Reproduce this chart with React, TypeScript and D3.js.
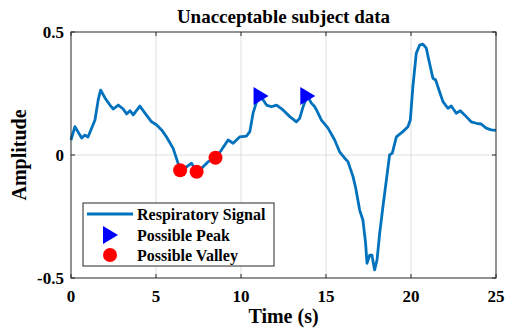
import React from "react";
import * as d3 from "d3";

// Respiratory signal samples: time (s) and amplitude
const timeS = [0, 0.23, 0.63, 0.82, 1.0, 1.41, 1.6, 1.74, 2.0, 2.29, 2.49, 2.78, 3.07, 3.27, 3.47, 3.66, 4.05, 4.35, 4.74, 5.04, 5.33, 5.62, 6.01, 6.3, 6.42, 6.8, 7.09, 7.39, 7.77, 8.07, 8.5, 8.85, 9.24, 9.54, 9.93, 10.32, 10.52, 10.71, 10.95, 11.15, 11.5, 11.79, 12.09, 12.47, 12.87, 13.26, 13.45, 13.65, 13.9, 14.14, 14.34, 14.44, 14.73, 15.12, 15.51, 15.8, 16.1, 16.29, 16.59, 16.75, 16.98, 17.17, 17.33, 17.41, 17.57, 17.7, 17.86, 18.0, 18.16, 18.35, 18.55, 18.74, 18.9, 19.14, 19.52, 19.82, 19.96, 20.11, 20.31, 20.51, 20.7, 20.9, 21.09, 21.29, 21.45, 21.68, 21.88, 22.17, 22.37, 22.66, 22.9, 23.15, 23.54, 23.84, 24.13, 24.42, 24.72, 25.0];
const amplitude = [0.061, 0.115, 0.069, 0.081, 0.073, 0.142, 0.224, 0.264, 0.232, 0.203, 0.187, 0.203, 0.187, 0.167, 0.18, 0.163, 0.199, 0.17, 0.135, 0.122, 0.102, 0.073, 0.027, -0.034, -0.062, -0.048, -0.033, -0.068, -0.048, -0.027, -0.011, 0.02, 0.061, 0.048, 0.074, 0.077, 0.095, 0.17, 0.224, 0.24, 0.203, 0.196, 0.203, 0.183, 0.156, 0.135, 0.149, 0.196, 0.24, 0.211, 0.196, 0.183, 0.142, 0.109, 0.061, 0.013, -0.013, -0.027, -0.088, -0.135, -0.224, -0.264, -0.358, -0.44, -0.407, -0.407, -0.467, -0.427, -0.317, -0.21, -0.102, 0.0, 0.008, 0.074, 0.095, 0.115, 0.142, 0.278, 0.413, 0.447, 0.451, 0.434, 0.373, 0.312, 0.305, 0.257, 0.217, 0.19, 0.199, 0.17, 0.18, 0.163, 0.135, 0.129, 0.126, 0.109, 0.102, 0.1];

// Detected candidate extrema
const peakTimes = [11.15, 13.9];
const peakValues = [0.24, 0.24];
const valleyTimes = [6.42, 7.39, 8.5];
const valleyValues = [-0.062, -0.068, -0.011];

const xTicks = [0, 5, 10, 15, 20, 25];
const yTicks = [-0.5, 0, 0.5];
const xGrid = [5, 10, 15, 20];
const yGrid = [0];

const title = "Unacceptable subject data";
const xLabel = "Time (s)";
const yLabel = "Amplitude";
const legendLabels = ["Respiratory Signal", "Possible Peak", "Possible Valley"];

const W = 505;
const H = 328;
const M = { left: 71, right: 496, top: 32, bottom: 278 };
const font = "'Liberation Serif', 'Times New Roman', serif";
const lineColor = "#0072BD";
const axisColor = "#262626";

export default function App() {
  const x = d3.scaleLinear().domain([0, 25]).range([M.left, M.right]);
  const y = d3.scaleLinear().domain([-0.5, 0.5]).range([M.bottom, M.top]);

  const pts: [number, number][] = timeS.map((t, i) => [t, amplitude[i]]);
  const line = d3
    .line<[number, number]>()
    .x((d) => x(d[0]))
    .y((d) => y(d[1]));

  const tri = (cx: number, cy: number) =>
    `M${cx - 7},${cy - 9}L${cx + 8},${cy}L${cx - 7},${cy + 9}Z`;

  const lg = { x: 83, y: 203, w: 191, h: 63 };
  const rowY = [214, 235, 255];

  return (
    <svg
      width={W}
      height={H}
      style={{ position: "absolute", left: 0, top: 0, background: "#fff", fontFamily: font }}
    >
      <rect x={0} y={0} width={W} height={H} fill="#fff" />
      {/* grid */}
      {xGrid.map((g) => (
        <line key={"gx" + g} x1={x(g)} x2={x(g)} y1={M.top} y2={M.bottom} stroke="#dedede" strokeWidth={1} />
      ))}
      {yGrid.map((g) => (
        <line key={"gy" + g} x1={M.left} x2={M.right} y1={y(g)} y2={y(g)} stroke="#dedede" strokeWidth={1} />
      ))}

      {/* signal */}
      <path d={line(pts) ?? ""} fill="none" stroke={lineColor} strokeWidth={2.8} strokeLinejoin="round" />

      {/* peaks and valleys */}
      {peakTimes.map((t, i) => (
        <path key={"p" + i} d={tri(x(t), y(peakValues[i]))} fill="#0000FF" />
      ))}
      {valleyTimes.map((t, i) => (
        <circle key={"v" + i} cx={x(t)} cy={y(valleyValues[i])} r={7} fill="#FF0000" />
      ))}

      {/* frame */}
      <rect x={M.left} y={M.top} width={M.right - M.left} height={M.bottom - M.top} fill="none" stroke={axisColor} strokeWidth={1} />
      {xTicks.map((t) => (
        <g key={"xt" + t}>
          <line x1={x(t)} x2={x(t)} y1={M.bottom} y2={M.bottom - 4} stroke={axisColor} />
          <line x1={x(t)} x2={x(t)} y1={M.top} y2={M.top + 4} stroke={axisColor} />
          <text x={x(t)} y={302} textAnchor="middle" fontSize={17} fontWeight="bold" fill="#000">
            {t}
          </text>
        </g>
      ))}
      {yTicks.map((t) => (
        <g key={"yt" + t}>
          <line x1={M.left} x2={M.left + 4} y1={y(t)} y2={y(t)} stroke={axisColor} />
          <line x1={M.right} x2={M.right - 4} y1={y(t)} y2={y(t)} stroke={axisColor} />
          <text x={M.left - 7} y={y(t) + 6} textAnchor="end" fontSize={17} fontWeight="bold" fill="#000">
            {t}
          </text>
        </g>
      ))}

      {/* title and labels */}
      <text x={(M.left + M.right) / 2} y={23} textAnchor="middle" fontSize={19} fontWeight="bold" fill="#000">
        {title}
      </text>
      <text x={(M.left + M.right) / 2} y={323} textAnchor="middle" fontSize={20} fontWeight="bold" fill="#000">
        {xLabel}
      </text>
      <text
        transform={`translate(26,${(M.top + M.bottom) / 2}) rotate(-90)`}
        textAnchor="middle"
        fontSize={20}
        fontWeight="bold"
        fill="#000"
      >
        {yLabel}
      </text>

      {/* legend */}
      <rect x={lg.x} y={lg.y} width={lg.w} height={lg.h} fill="#fff" stroke={axisColor} strokeWidth={1} />
      <line x1={87} x2={133} y1={rowY[0]} y2={rowY[0]} stroke={lineColor} strokeWidth={2.8} />
      <path d={tri(110, rowY[1])} fill="#0000FF" />
      <circle cx={110} cy={rowY[2]} r={7} fill="#FF0000" />
      {legendLabels.map((l, i) => (
        <text key={l} x={137} y={rowY[i] + 5.5} fontSize={16} fontWeight="bold" fill="#000">
          {l}
        </text>
      ))}
    </svg>
  );
}
